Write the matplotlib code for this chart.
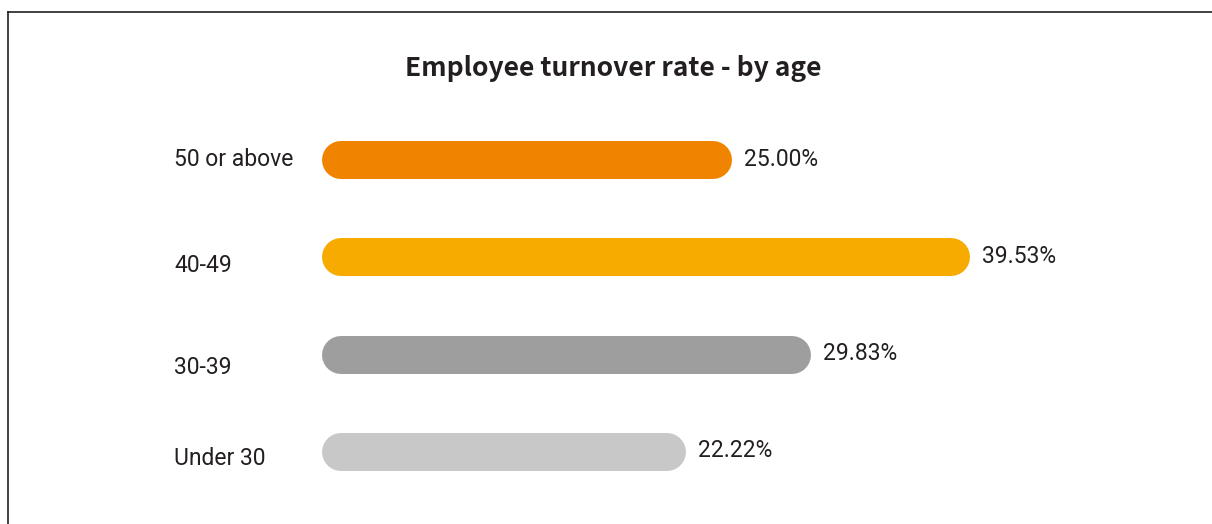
import numpy as np
import matplotlib
matplotlib.use("Agg")
import matplotlib.pyplot as plt
from matplotlib.lines import Line2D

# data
categorias = ["Under 30", "30-39", "40-49", "50 or above"]
valores = [22.22, 29.83, 39.53, 25.00]
etiquetas = ["22.22%", "29.83%", "39.53%", "25.00%"]
colores = ["#c8c8c8", "#9e9e9e", "#f7ab00", "#f08400"]
titulo = "Employee turnover rate - by age"

texto = "#231f20"
W, H = 1212, 524
dpi = 100

fig = plt.figure(figsize=(W/dpi, H/dpi), dpi=dpi)
fig.patch.set_facecolor("white")

# axes: x=0 at 322px, 16.4 px per unit; y centers 452..160 px
x0_px = 322
px_x = 16.4
xmax = 50.
ymin, ymax = -0.7, 3.7
px_y = 97.3
ax_left = x0_px/W
ax_w = xmax*px_x/W
top_px = 160 - (ymax-3)*px_y
ax_h = (ymax-ymin)*px_y/H
ax_bottom = 1 - top_px/H - ax_h
ax = fig.add_axes([ax_left, ax_bottom, ax_w, ax_h])
ax.set_xlim(0, xmax)
ax.set_ylim(ymin, ymax)
ax.axis("off")

alto_px = 38
r = (alto_px/2)/px_x  # radio de la punta en unidades de datos
lw = alto_px*72/dpi

y = np.arange(len(categorias))
desfase = [7, 13, 8, 0]  # desfase vertical de las etiquetas (px)

for i in range(len(categorias)):
    ax.plot([r, valores[i]-r], [y[i], y[i]], color=colores[i], lw=lw,
            solid_capstyle="round", zorder=2)
    ax.text(valores[i] + 12/px_x, y[i] + 1/px_y, etiquetas[i], ha="left", va="center",
            fontsize=16.5, color=texto, family="Roboto")
    ax.text(-148/px_x, y[i] - desfase[i]/px_y, categorias[i], ha="left", va="center",
            fontsize=16.5, color=texto, family="Roboto", clip_on=False)

fig.text(613/W, 1-68/H, titulo, ha="center", va="center", fontsize=19,
         fontweight="bold", color=texto, family="Noto Sans CJK KR")

# marco
fig.add_artist(Line2D([7.5/W, 1], [1-11.5/H, 1-11.5/H], color=texto, lw=1.2))
fig.add_artist(Line2D([7.5/W, 7.5/W], [0, 1-11.5/H], color=texto, lw=1.2))

fig.savefig("out.png", dpi=dpi)
